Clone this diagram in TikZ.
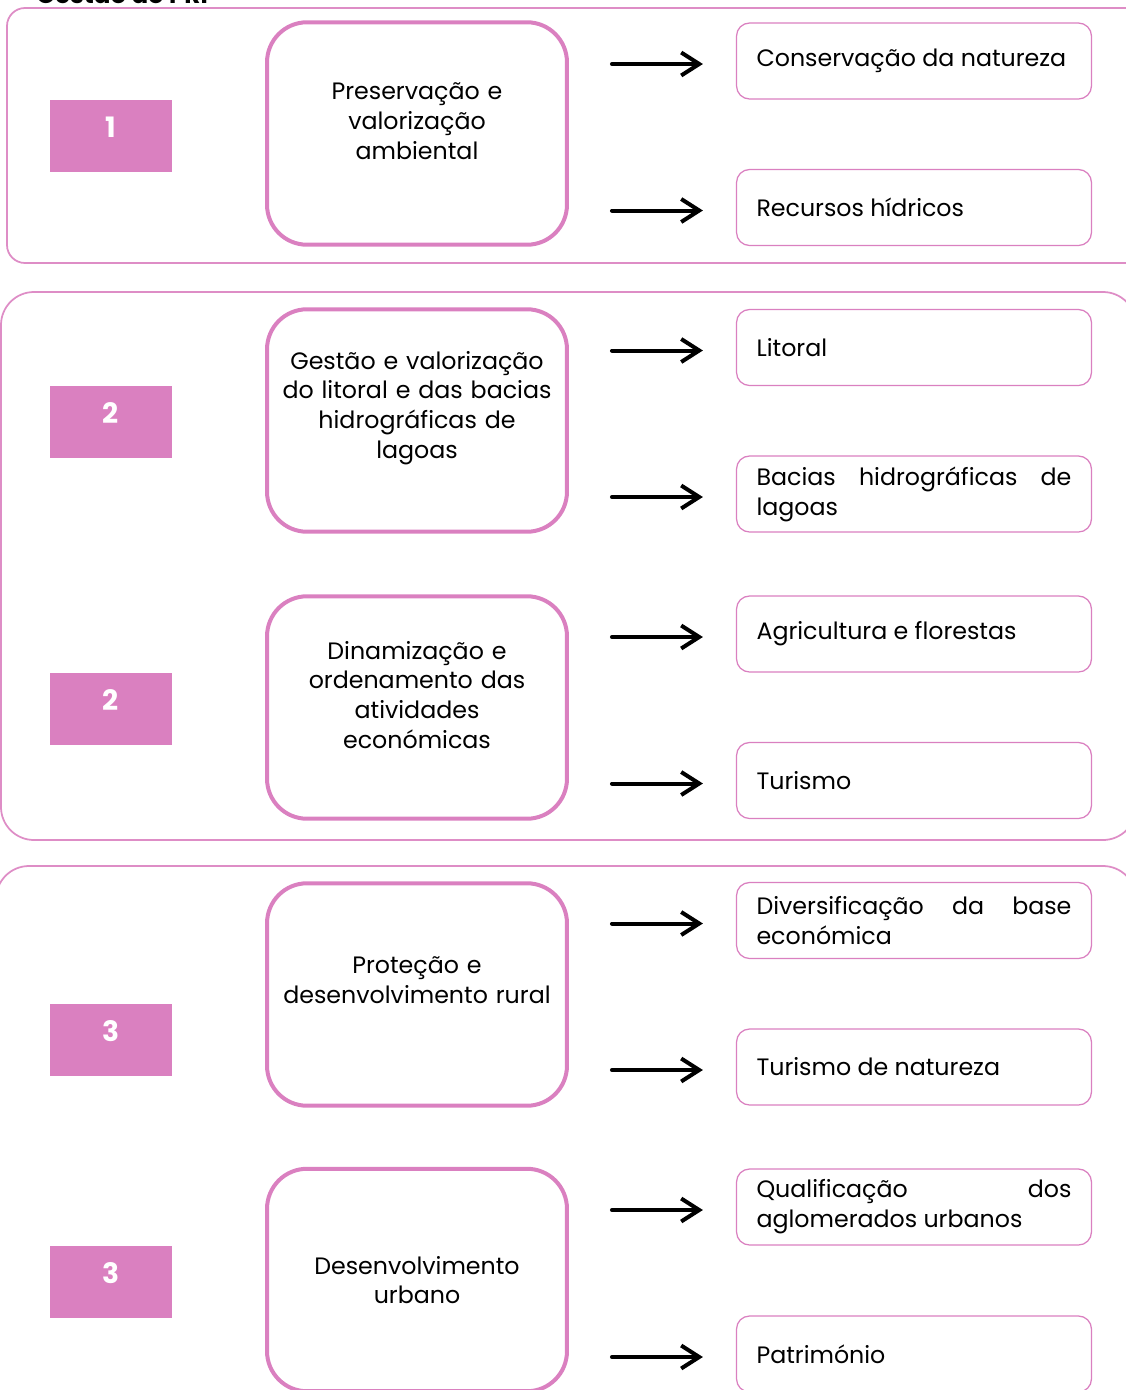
\documentclass[tikz,border=0pt]{standalone}
\usepackage{fontspec}
\setmainfont{Poppins}
\usetikzlibrary{arrows.meta}
\definecolor{rosa}{HTML}{DA80C0}
\hyphenpenalty=10000

\begin{document}
\begin{tikzpicture}[x=0.02cm,y=-0.02cm,
  panel/.style={draw=rosa!90,line width=0.035cm},
  numbox/.style={fill=rosa,minimum width=2.44cm,minimum height=1.44cm,text=white,
    text height=0.4cm,text depth=0.36cm,font=\fontsize{16}{18}\selectfont\bfseries},
  midbox/.style={draw=rosa,line width=0.08cm,rounded corners=0.8cm,minimum width=6.0cm,minimum height=4.45cm},
  midtxt/.style={text width=5.6cm,align=center,font=\fontsize{13.5}{17}\selectfont},
  topic/.style={draw=rosa,line width=0.025cm,rounded corners=0.26cm,minimum width=7.1cm,minimum height=1.52cm,
    text width=6.3cm,align=justify,font=\fontsize{13.5}{17}\selectfont},
  arr/.style={-{Straight Barb[length=0.36cm,width=0.46cm]},line width=0.08cm,line cap=round,
    shorten <=0.86cm,shorten >=0.66cm}
]
\clip (0,0) rectangle (1126,1390);

% title, cut off at the top
\node[anchor=base west,inner sep=0pt,font=\fontsize{14}{16}\selectfont\bfseries] (titulo) at (36,3) {Gestão do PRI};

% panels
\draw[panel,rounded corners=0.36cm] (7,8) rectangle (1200,263);
\draw[panel,rounded corners=0.66cm] (1,292) rectangle (1136,840);
\draw[panel,rounded corners=0.66cm] (-4,866) rectangle (1136,1420);

% numbers
\node[numbox] (n1) at (111,136) {1};
\node[numbox] (n2) at (111,422) {2};
\node[numbox] (n3) at (111,709) {2};
\node[numbox] (n4) at (111,1040) {3};
\node[numbox] (n5) at (111,1282) {3};

% axes
\node[midbox] (g1) at (417,133.5) {};
\node[midtxt] (t1) at ([yshift=0.25cm]g1) {Preservação e\\ valorização\\ ambiental};
\node[midbox] (g2) at (417,420.5) {};
\node[midtxt] (t2) at ([yshift=0.25cm]g2) {Gestão e valorização\\ do litoral e das bacias\\ hidrográficas de\\ lagoas};
\node[midbox] (g3) at (417,707.5) {};
\node[midtxt] (t3) at ([yshift=0.25cm]g3) {Dinamização e\\ ordenamento das\\ atividades\\ económicas};
\node[midbox] (g4) at (417,994.5) {};
\node[midtxt] (t4) at ([yshift=0.28cm]g4) {Proteção e\\ desenvolvimento rural};
\node[midbox] (g5) at (417,1280) {};
\node[midtxt] (t5) at (g5) {Desenvolvimento\\ urbano};

% topics
\node[topic] (c1) at (914,61) {Conservação da natureza};
\node[topic] (c2) at (914,207.5) {Recursos hídricos};
\node[topic] (c3) at (914,347.5) {Litoral};
\node[topic] (c4) at (914,494) {Bacias\hfill hidrográficas\hfill de\\ lagoas};
\node[topic] (c5) at (914,634) {Agricultura e florestas};
\node[topic] (c6) at (914,780.5) {Turismo};
\node[topic] (c7) at (914,920.5) {Diversificação\hfill da\hfill base\\ económica};
\node[topic] (c8) at (914,1067) {Turismo de natureza};
\node[topic] (c9) at (914,1207) {Qualificação\hfill dos\\ aglomerados urbanos};
\node[topic] (c10) at (914,1354) {Património};

\path[arr,transform canvas={yshift=-0.06cm}]
           (g1.east |- c1.west) edge (c1.west)
           (g1.east |- c2.west) edge (c2.west)
           (g2.east |- c3.west) edge (c3.west)
           (g2.east |- c4.west) edge (c4.west)
           (g3.east |- c5.west) edge (c5.west)
           (g3.east |- c6.west) edge (c6.west)
           (g4.east |- c7.west) edge (c7.west)
           (g4.east |- c8.west) edge (c8.west)
           (g5.east |- c9.west) edge (c9.west)
           (g5.east |- c10.west) edge (c10.west);
\end{tikzpicture}
\end{document}
